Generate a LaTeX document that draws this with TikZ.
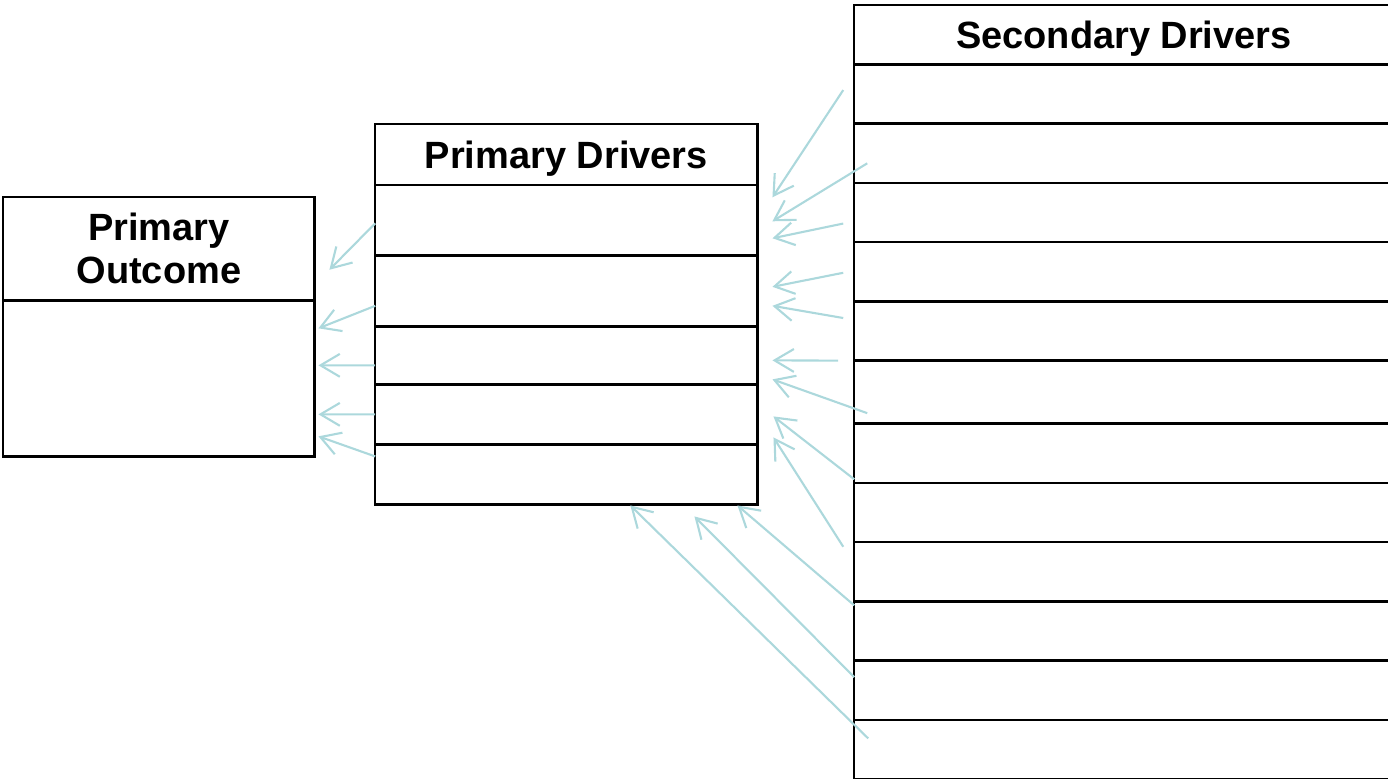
\documentclass[tikz,border=0pt]{standalone}
\usepackage{fontspec}
\setmainfont{Liberation Sans}
\usetikzlibrary{matrix,arrows.meta}

\definecolor{linkteal}{RGB}{172,216,220}

\tikzset{
  driverbox/.style={matrix of nodes, nodes in empty cells,
    anchor=north west, inner sep=0pt, outer sep=0pt, row sep=-0.7pt,
    nodes={draw, line width=0.7pt, inner sep=0pt, outer sep=0pt,
      font=\fontsize{10.8}{12.2}\selectfont\bfseries}},
  link/.style={->, linkteal, line width=0.6pt}
}

\begin{document}
\begin{tikzpicture}[x=0.01cm, y=-0.01cm, >={Straight Barb[length=5.5pt,width=6.5pt]}]
\useasboundingbox (0,0) rectangle (1388,779);

\matrix(po)[driverbox, nodes={minimum width=3.11cm},
row 1/.style={nodes={minimum height=1.03cm}},
row 2/.style={nodes={minimum height=1.56cm}}] at (2,196)
{
\raisebox{-1.4pt}[\height][\depth]{\begin{tabular}{@{}c@{}}Primary\\Outcome\end{tabular}} \\
\\};

\matrix(pd)[driverbox, nodes={minimum width=3.82cm},
row 1/.style={nodes={minimum height=0.61cm, text depth=0pt}},
row 2/.style={nodes={minimum height=0.70cm}},
row 3/.style={nodes={minimum height=0.71cm}},
row 4/.style={nodes={minimum height=0.58cm}},
row 5/.style={nodes={minimum height=0.60cm}},
row 6/.style={nodes={minimum height=0.60cm}}] at (374,123)
{
Primary Drivers \\
\\ \\ \\ \\ \\};

\matrix(sd)[driverbox, nodes={minimum width=5.39cm, minimum height=0.592cm},
row 1/.style={nodes={text depth=0pt}},
row 7/.style={nodes={minimum height=0.63cm}}] at (853,4)
{
Secondary Drivers \\
\\ \\ \\ \\ \\ \\ \\ \\ \\ \\ \\ \\};

\path[link]
([shift={(0,3)}]pd-2-1.west) edge ([shift={(15,21)}]po-1-1.east)
([shift={(0,15)}]pd-3-1.west) edge ([shift={(4,-50)}]po-2-1.east)
([shift={(0,10)}]pd-4-1.west) edge ([shift={(4,-13)}]po-2-1.east)
(pd-5-1.west) edge ([shift={(4,36)}]po-2-1.east)
([shift={(0,-18)}]pd-6-1.west) edge ([shift={(4,58)}]po-2-1.east);

\path[link]
([shift={(-11,-4)}]sd-2-1.west) edge ([shift={(15,-23)}]pd-2-1.east)
([shift={(13,10)}]sd-3-1.west) edge ([shift={(15,1)}]pd-2-1.east)
([shift={(-11,11)}]sd-4-1.west) edge ([shift={(15,18)}]pd-2-1.east)
([shift={(-11,1)}]sd-5-1.west) edge ([shift={(15,-4)}]pd-3-1.east)
([shift={(-11,-13)}]sd-6-1.west) edge ([shift={(15,15)}]pd-3-1.east)
([shift={(-16,0)}]sd-6-1.south west) edge ([shift={(15,5)}]pd-4-1.east)
([shift={(13,21)}]sd-7-1.west) edge ([shift={(15,24)}]pd-4-1.east)
([shift={(0,26)}]sd-8-1.west) edge ([shift={(16,2)}]pd-5-1.east)
([shift={(-11,-25)}]sd-10-1.west) edge ([shift={(16,23)}]pd-5-1.east)
([shift={(0,4)}]sd-11-1.north west) edge ([shift={(-20,1)}]pd-6-1.south east)
([shift={(0,-13)}]sd-12-1.west) edge ([shift={(-63,12)}]pd-6-1.south east)
([shift={(14,-11)}]sd-13-1.west) edge ([shift={(64,1)}]pd-6-1.south);
\end{tikzpicture}
\end{document}
